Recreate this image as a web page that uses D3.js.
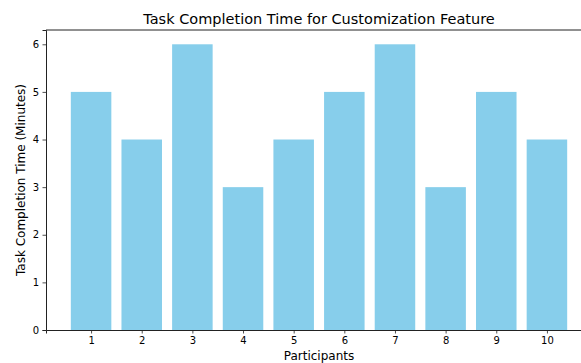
<!DOCTYPE html>
<html>
<head>
<meta charset="utf-8">
<script src="https://cdn.jsdelivr.net/npm/d3@7"></script>
<style>
  body { margin: 0; background: #fff; }
  svg { display: block; font-family: 'DejaVu Sans', sans-serif; }
  .tick text { fill: #000; }
</style>
</head>
<body>
<div id="chart"></div>
<script>
const participants = [1, 2, 3, 4, 5, 6, 7, 8, 9, 10];
const minutes = [5, 4, 6, 3, 4, 5, 6, 3, 5, 4];
const yTicks = [0, 1, 2, 3, 4, 5, 6];

const W = 581, H = 363;
const margin = { top: 30, right: -11, bottom: 33, left: 46 };
const w = W - margin.left - margin.right;
const h = H - margin.top - margin.bottom;

const svg = d3.select('#chart').append('svg')
  .attr('width', W).attr('height', H);

const g = svg.append('g').attr('transform', `translate(${margin.left},${margin.top})`);

// matplotlib-like margins: bars span 0.6..10.4, padded 5%
const x = d3.scaleLinear().domain([0.11, 10.89]).range([0, w]);
const y = d3.scaleLinear().domain([0, 6.3]).range([h, 0]);
const barW = x(1.8) - x(1);

g.append('g').selectAll('rect')
  .data(participants)
  .join('rect')
  .attr('x', (d) => x(d) - barW / 2)
  .attr('y', (d, i) => y(minutes[i]))
  .attr('width', barW)
  .attr('height', (d, i) => h - y(minutes[i]))
  .attr('fill', '#87ceeb');

const xAxis = g.append('g')
  .attr('transform', `translate(0,${h})`)
  .call(d3.axisBottom(x).tickValues(participants).tickFormat(d3.format('d')).tickSize(3.5).tickPadding(3.5));

const yAxis = g.append('g')
  .call(d3.axisLeft(y).tickValues(yTicks).tickFormat(d3.format('d')).tickSize(3.5).tickPadding(3.5));

for (const ax of [xAxis, yAxis]) {
  ax.attr('font-family', 'DejaVu Sans').attr('font-size', 10);
  ax.select('.domain').attr('stroke', '#222').attr('stroke-width', 1);
  ax.selectAll('.tick line').attr('stroke', '#222').attr('stroke-width', 0.8);
}

// top and right spines
g.append('line')
  .attr('x1', 0).attr('x2', w).attr('y1', 0).attr('y2', 0)
  .attr('stroke', '#222').attr('stroke-width', 1);
g.append('line')
  .attr('x1', w).attr('x2', w).attr('y1', 0).attr('y2', h)
  .attr('stroke', '#222').attr('stroke-width', 1);

svg.append('text')
  .attr('x', margin.left + w / 2).attr('y', 24)
  .attr('text-anchor', 'middle').attr('font-size', 14.5).attr('fill', '#000')
  .text('Task Completion Time for Customization Feature');

svg.append('text')
  .attr('x', margin.left + w / 2).attr('y', 360)
  .attr('text-anchor', 'middle').attr('font-size', 12).attr('fill', '#000')
  .text('Participants');

svg.append('text')
  .attr('transform', `translate(25,${margin.top + h / 2}) rotate(-90)`)
  .attr('text-anchor', 'middle').attr('font-size', 12).attr('fill', '#000')
  .text('Task Completion Time (Minutes)');
</script>
</body>
</html>
